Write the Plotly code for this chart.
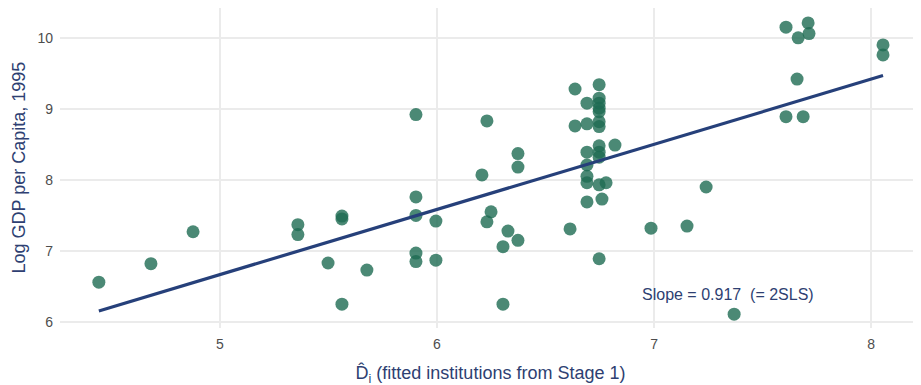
import plotly.graph_objects as go

# Fitted institutions (Stage 1) and log GDP per capita 1995
d_hat = [4.442, 4.682, 4.876, 5.359, 5.359, 5.498, 5.562, 5.562, 5.562, 5.677,
         5.903, 5.903, 5.903, 5.903, 5.903, 5.995, 5.995,
         6.207, 6.230, 6.249, 6.230, 6.327, 6.304, 6.373, 6.373, 6.373, 6.304,
         6.613, 6.636, 6.636,
         6.691, 6.691, 6.691, 6.691, 6.691, 6.691, 6.691,
         6.747, 6.747, 6.747, 6.747, 6.747, 6.747, 6.747, 6.747, 6.747, 6.747, 6.747, 6.747,
         6.760, 6.779, 6.820,
         6.986, 7.152, 7.240, 7.369,
         7.608, 7.710, 7.664, 7.714, 7.659, 7.608, 7.687, 8.055, 8.055]
log_gdp = [6.56, 6.82, 7.27, 7.37, 7.23, 6.83, 7.49, 7.45, 6.25, 6.73,
           8.92, 7.76, 7.50, 6.97, 6.85, 7.42, 6.87,
           8.07, 8.83, 7.55, 7.41, 7.28, 7.06, 7.15, 8.37, 8.18, 6.25,
           7.31, 9.28, 8.76,
           9.08, 8.79, 8.39, 8.21, 8.05, 7.96, 7.69,
           9.34, 9.15, 9.08, 9.01, 8.96, 8.82, 8.75, 8.48, 8.39, 8.32, 7.93, 6.89,
           7.73, 7.96, 8.49,
           7.32, 7.35, 7.90, 6.11,
           10.15, 10.21, 10.00, 10.06, 9.42, 8.89, 8.89, 9.90, 9.76]

slope = 0.917
intercept = 2.082

x_ticks = [5, 6, 7, 8]
y_ticks = [6, 7, 8, 9, 10]

x_min, x_max = min(d_hat), max(d_hat)
line_x = [x_min, x_max]
line_y = [intercept + slope * v for v in line_x]

navy = "#26407A"
title_color = "#2E3F72"
FONT = "Liberation Sans, Arial, sans-serif"

fig = go.Figure()
fig.add_trace(go.Scatter(
    x=d_hat, y=log_gdp, mode="markers",
    marker=dict(size=13, color="rgba(30,108,82,0.8)", line=dict(width=0)),
    showlegend=False, hoverinfo="x+y"))
fig.add_trace(go.Scatter(
    x=line_x, y=line_y, mode="lines",
    line=dict(color=navy, width=3.2),
    showlegend=False, hoverinfo="skip"))

fig.add_annotation(
    x=7.341, y=6.39, text="Slope = 0.917&nbsp; (= 2SLS)", showarrow=False,
    font=dict(family=FONT, size=16, color=title_color))

# y-axis title
fig.add_annotation(
    xref="paper", yref="paper", x=0, y=0.5, xanchor="center", yanchor="middle",
    xshift=-41.5, textangle=-90, showarrow=False,
    text="Log GDP per Capita, 1995",
    font=dict(family=FONT, size=18, color=title_color))

fig.update_layout(
    width=921, height=385,
    margin=dict(l=52, r=8, t=0, b=65),
    plot_bgcolor="white", paper_bgcolor="white",
    font=dict(family=FONT),
    xaxis=dict(
        range=[4.263, 8.230], tickvals=x_ticks, ticktext=[str(v) for v in x_ticks],
        showgrid=True, gridcolor="#EBEBEB", gridwidth=1.6, zeroline=False,
        showline=False, ticks="", tickfont=dict(size=14, color="#4D4D4D"),
        ticklabelstandoff=6, automargin=False,
        title=dict(text="D\u0302<sub>i</sub> (fitted institutions from Stage 1)",
                   font=dict(size=18, color=title_color))),
    yaxis=dict(
        range=[5.915, 10.42], tickvals=y_ticks, ticktext=[str(v) for v in y_ticks],
        showgrid=True, gridcolor="#EBEBEB", gridwidth=1.6, zeroline=False,
        showline=False, ticks="", tickfont=dict(size=14, color="#4D4D4D"),
        ticklabelstandoff=6, automargin=False),
)

fig.write_html("out.html")
